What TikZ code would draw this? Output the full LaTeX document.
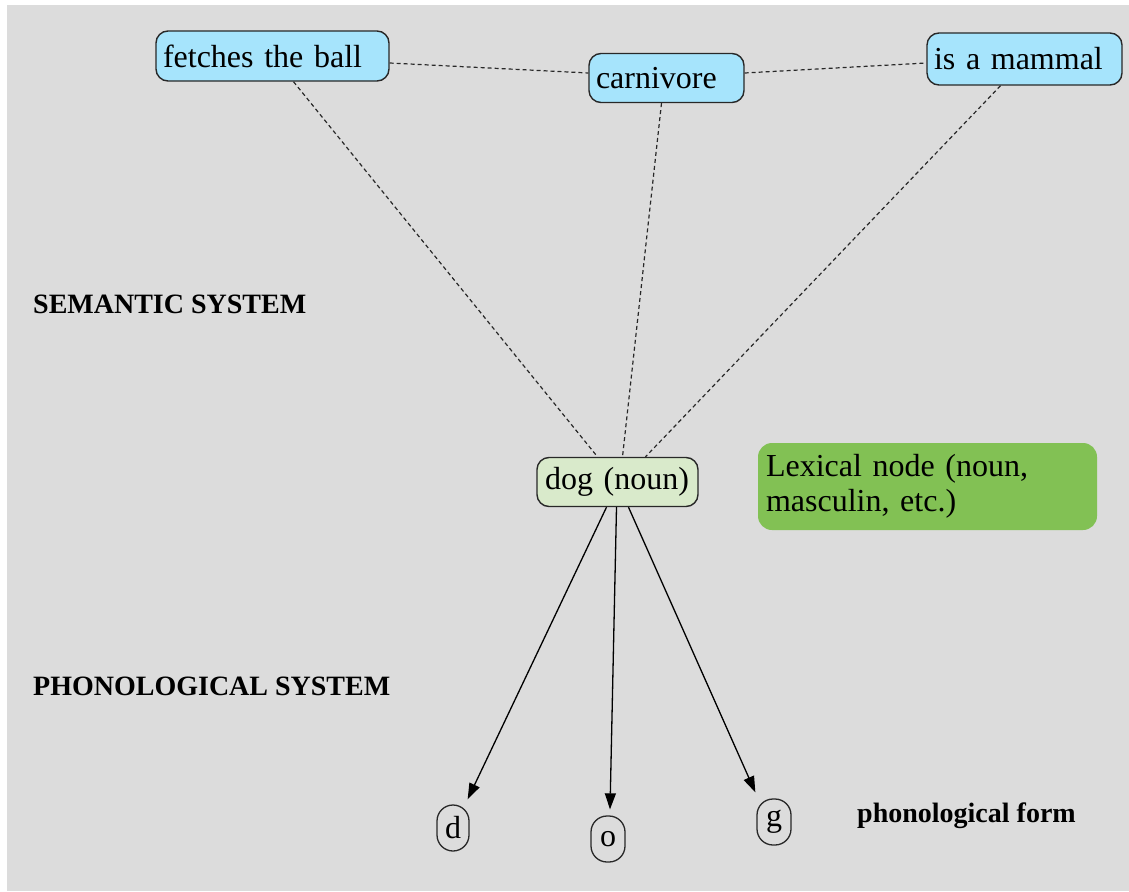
\documentclass[tikz,border=0pt]{standalone}
\usepackage{fontspec}
\setmainfont{Liberation Serif}
\usetikzlibrary{arrows.meta}
\definecolor{bggrey}{RGB}{220,220,220}
\definecolor{conceptblue}{RGB}{166,228,252}
\definecolor{lexgreen}{RGB}{217,234,203}
\definecolor{notegreen}{RGB}{130,193,84}
\definecolor{edgegrey}{RGB}{40,40,40}
\begin{document}
\begin{tikzpicture}[x=1pt,y=-1pt,
  concept/.style={draw=edgegrey, line width=1.4pt, fill=conceptblue, rounded corners=12pt,
    font=\fontsize{32}{36}\selectfont, align=left, inner xsep=7pt, inner ysep=0pt},
  lexnode/.style={draw=edgegrey, line width=1.4pt, fill=lexgreen, rounded corners=12pt,
    font=\fontsize{32}{36}\selectfont, align=left, inner xsep=8pt, inner ysep=0pt},
  notebox/.style={fill=notegreen, rounded corners=14pt, font=\fontsize{32}{35}\selectfont,
    align=left, inner xsep=8pt, inner ysep=0pt},
  phon/.style={draw=edgegrey, line width=1.3pt, rounded corners=16pt, minimum width=32pt,
    minimum height=46pt, inner sep=0pt, font=\fontsize{32}{36}\selectfont},
  syslabel/.style={anchor=west, inner sep=0pt, font=\fontsize{28}{32}\selectfont\bfseries},
  assoc/.style={draw=edgegrey, line width=1.2pt, dash pattern=on 4pt off 3pt},
  link/.style={draw=black, line width=1.3pt, -{Triangle[length=16pt,width=11pt]}}
]
\useasboundingbox (0,0) rectangle (1129,891);
\fill[bggrey] (7,5) rectangle (1129,891);

% semantic nodes
\node[concept, text width=219pt, minimum height=50pt] (fetch) at (272.5,56) {fetches the ball};
\node[concept, text width=141pt, minimum height=49pt] (carn) at (666.5,78) {carnivore};
\node[concept, text width=181pt, minimum height=52pt] (mammal) at (1024.5,59) {is a mammal};

% lexical node
\node[lexnode, text width=145pt, minimum height=49pt] (dog) at (617.5,482) {dog (noun)};
\node[notebox, text width=323pt, minimum height=87pt] (note) at (927.5,486.5) {Lexical node (noun,\\masculin, etc.)};

% phonological nodes
\node[phon] (d) at (453,828) {d};
\node[phon, minimum width=34pt] (o) at (608,839) {o};
\node[phon, minimum width=34pt] (g) at (774,822) {g};

% labels
\node[syslabel] (sem) at (33,304) {SEMANTIC SYSTEM};
\node[syslabel] (phsys) at (33,686) {PHONOLOGICAL SYSTEM};
\node[anchor=west, inner sep=0pt, font=\fontsize{28}{30}\selectfont\bfseries] (pform) at (857,816) {phonological form};

% dashed associations
\draw[assoc] ([yshift=-7pt]fetch.east) -- ([yshift=5pt]carn.west);
\draw[assoc] ([yshift=5pt]carn.east) -- ([yshift=-4pt]mammal.west);
\draw[assoc] ([xshift=21pt]fetch.south) -- ([xshift=-20pt]dog.north);
\draw[assoc] ([xshift=-5pt]carn.south) -- ([xshift=5pt]dog.north);
\draw[assoc] ([xshift=-24pt]mammal.south) -- ([xshift=28pt]dog.north);

% arrows to phonemes
\draw[link] ([xshift=-11pt]dog.south) -- ([xshift=-2pt,yshift=5pt]d.north east);
\draw[link] ([xshift=-1pt]dog.south) -- ([xshift=2pt,yshift=6pt]o.north);
\draw[link] ([xshift=11pt]dog.south) -- ([xshift=-1pt,yshift=6pt]g.north west);
\end{tikzpicture}
\end{document}
